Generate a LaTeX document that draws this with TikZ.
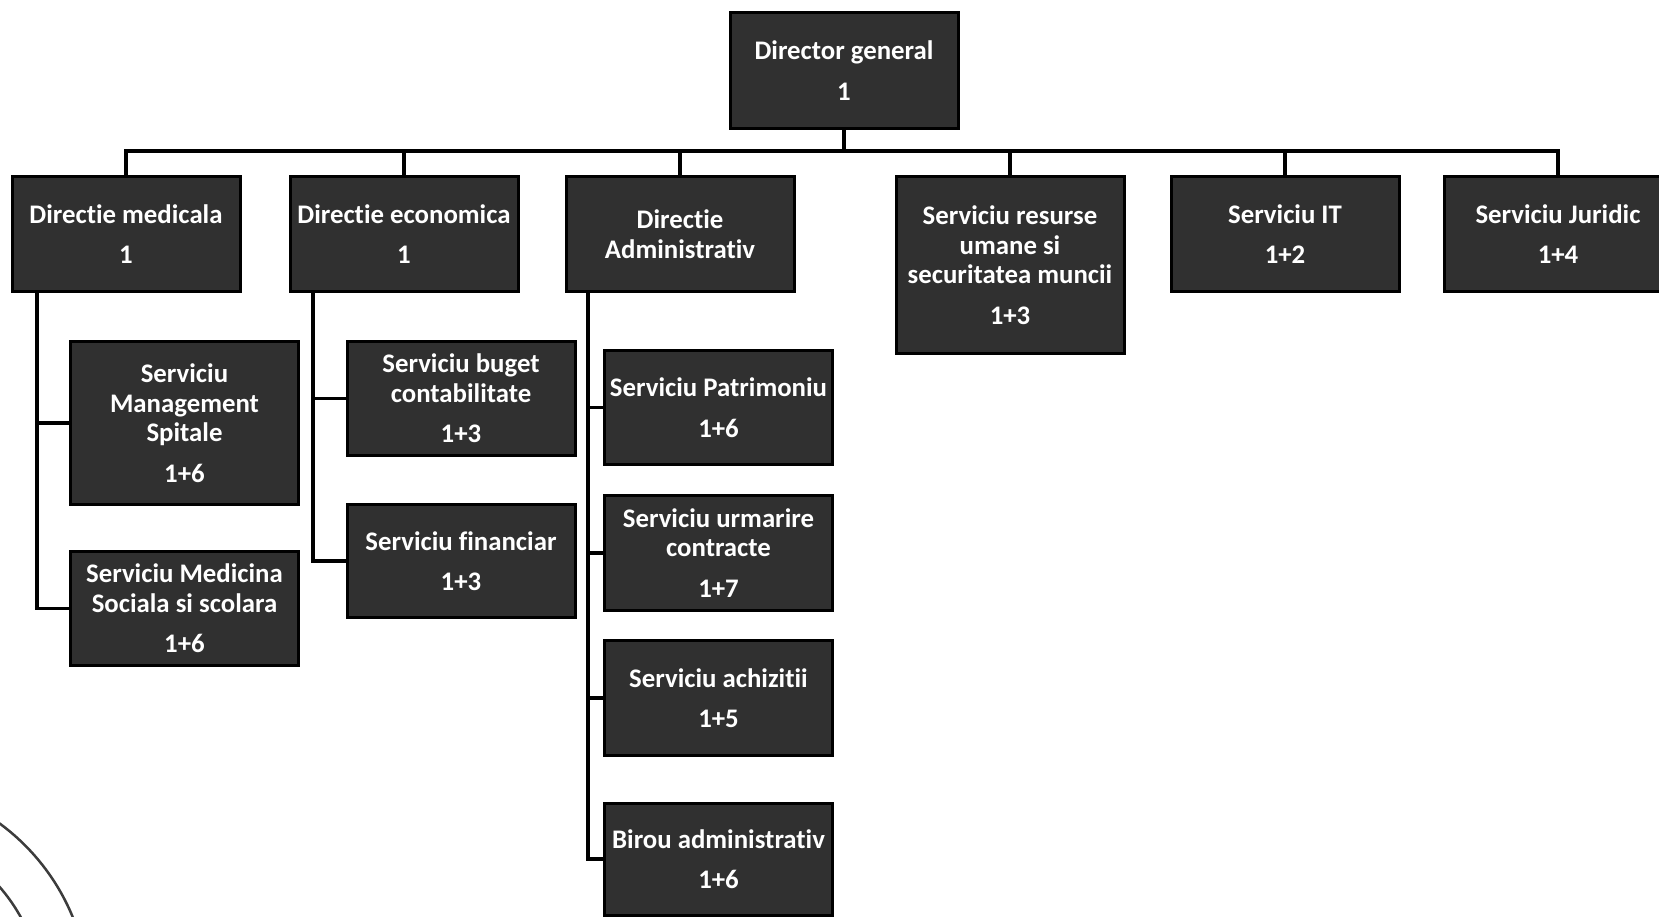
\documentclass[tikz,border=0pt]{standalone}
\usepackage{fontspec}
\setmainfont[Ligatures={NoCommon}]{Carlito}
\definecolor{boxfill}{RGB}{48,48,48}
\definecolor{stampink}{RGB}{60,60,60}
\begin{document}
\begin{tikzpicture}[x=1pt,y=-1pt,
  orgbox/.style={draw=black, line width=3pt, fill=boxfill, text=white,
    font=\bfseries\fontsize{26.8}{29.5}\selectfont, align=center,
    minimum width=228pt, minimum height=115pt, inner sep=0pt},
  conn/.style={draw=black, line width=3.5pt, line join=miter},
  stamp/.style={draw=stampink, line width=2.5pt}]
\useasboundingbox (0,0) rectangle (1659,917);
\clip (0,0) rectangle (1659,917);

% top level
\node[orgbox, minimum height=116pt] (dir) at (844,70.5) {Director general\\[11pt]1};
\node[orgbox] (dm) at (126,234) {Directie medicala\\[11pt]1};
\node[orgbox] (de) at (404,234) {Directie economica\\[11pt]1};
\node[orgbox] (da) at (680,234) {Directie\\Administrativ};
\node[orgbox, minimum height=177pt] (sr) at (1010,265) {Serviciu resurse\\umane si\\securitatea muncii\\[11pt]1+3};
\node[orgbox] (it) at (1285,234) {Serviciu IT\\[11pt]1+2};
\node[orgbox] (ju) at (1558,234) {Serviciu Juridic\\[11pt]1+4};

% medical
\node[orgbox, minimum height=163pt] (sms) at (184.5,423) {Serviciu\\Management\\Spitale\\[11pt]1+6};
\node[orgbox, minimum height=114pt] (smss) at (184.5,608.5) {Serviciu Medicina\\Sociala si scolara\\[11pt]1+6};
% economic
\node[orgbox, minimum height=114pt] (sbc) at (461,398.5) {Serviciu buget\\contabilitate\\[11pt]1+3};
\node[orgbox, minimum height=113pt] (sf) at (461,561) {Serviciu financiar\\[11pt]1+3};
% administrative
\node[orgbox, minimum height=114pt] (sp) at (718.5,407.5) {Serviciu Patrimoniu\\[11pt]1+6};
\node[orgbox, minimum height=115pt] (suc) at (718.5,553) {Serviciu urmarire\\contracte\\[11pt]1+7};
\node[orgbox, minimum height=115pt] (sa) at (718.5,698) {Serviciu achizitii\\[11pt]1+5};
\node[orgbox, minimum height=112pt] (ba) at (718.5,859) {Birou administrativ\\[11pt]1+6};

\coordinate (bus) at (0,151);
\coordinate (mspine) at (37,0);
\coordinate (espine) at (313,0);
\coordinate (aspine) at (588,0);

\draw[conn] (dir.south) -- (dir.south |- bus);
\draw[conn] (dm.north) -- (dm.north |- bus) -- (ju.north |- bus) -- (ju.north);
\foreach \n in {de,da,sr,it} \draw[conn] (\n.north) -- (\n.north |- bus);

\draw[conn] (dm.south -| mspine) -- (mspine |- smss.west) -- (smss.west);
\draw[conn] (mspine |- sms.west) -- (sms.west);
\draw[conn] (de.south -| espine) -- (espine |- sf.west) -- (sf.west);
\draw[conn] (espine |- sbc.west) -- (sbc.west);
\draw[conn] (da.south -| aspine) -- (aspine |- ba.west) -- (ba.west);
\foreach \n in {sp,suc,sa} \draw[conn] (aspine |- \n.west) -- (\n.west);

% partial stamp in the lower left corner
\draw[stamp] (-130,1000) circle (219pt);
\draw[stamp] (-130,1000) circle (172pt);
\end{tikzpicture}
\end{document}
